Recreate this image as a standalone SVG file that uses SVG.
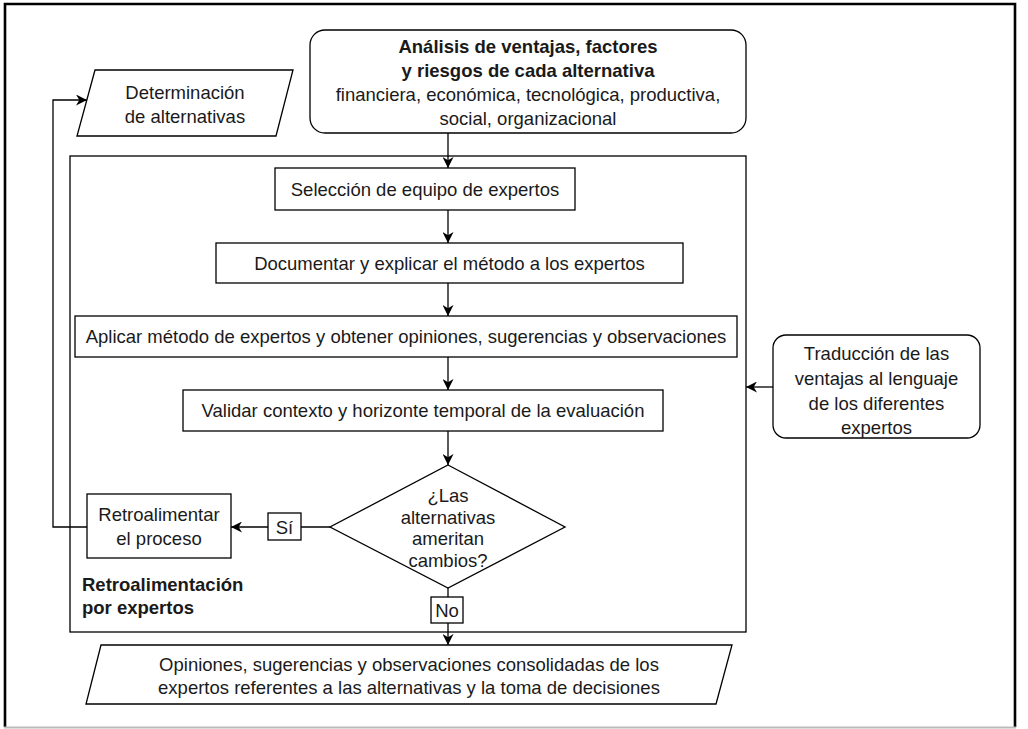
<svg xmlns="http://www.w3.org/2000/svg" width="1028" height="729" viewBox="0 0 1028 729">
<defs>
<style>
.n{fill:#fff;stroke:#000;stroke-width:1.3}
.t{font-family:"Liberation Sans",Arial,sans-serif;font-size:18.5px;fill:#1a1a1a;text-anchor:middle}
.b{font-weight:bold}
.c{fill:none;stroke:#000;stroke-width:1.3}
.l{fill:#fff;stroke:#000;stroke-width:1.3}
</style>
<marker id="ah" viewBox="0 0 10 10" refX="10" refY="5" markerWidth="12" markerHeight="11" markerUnits="userSpaceOnUse" orient="auto">
<path d="M0,0 L10,5 L0,10 L3,5 Z" fill="#000"/>
</marker>
</defs>
<rect width="1028" height="729" fill="#fff"/>
<g id="frame">
<path d="M5,727 L5,4 L1015,4 L1015,727" fill="none" stroke="#000" stroke-width="2.6"/>
<line x1="4" y1="727.5" x2="1016" y2="727.5" stroke="#bbb" stroke-width="2"/>
</g>
<g id="retro-frame">
<rect x="70" y="156" width="676" height="476" fill="none" stroke="#000" stroke-width="1.3"/>
<text class="t b" x="82" y="591" style="text-anchor:start">Retroalimentación</text>
<text class="t b" x="82" y="614" style="text-anchor:start">por expertos</text>
</g>
<g id="analisis">
<rect class="n" x="310" y="30" width="436" height="103" rx="15"/>
<text class="t b" x="528" y="53">Análisis de ventajas, factores</text>
<text class="t b" x="528" y="77">y riesgos de cada alternativa</text>
<text class="t" x="528" y="101">financiera, económica, tecnológica, productiva,</text>
<text class="t" x="528" y="125">social, organizacional</text>
</g>
<g id="determinacion">
<polygon class="n" points="95,70 293,70 276,136 77,136"/>
<text class="t" x="185" y="99">Determinación</text>
<text class="t" x="185" y="123">de alternativas</text>
</g>
<g id="seleccion">
<rect class="n" x="275" y="168" width="300" height="42"/>
<text class="t" x="425" y="195.5">Selección de equipo de expertos</text>
</g>
<g id="documentar">
<rect class="n" x="216" y="243" width="467" height="40"/>
<text class="t" x="449.5" y="269.5">Documentar y explicar el método a los expertos</text>
</g>
<g id="aplicar">
<rect class="n" x="75" y="316" width="662" height="41"/>
<text class="t" x="406" y="343">Aplicar método de expertos y obtener opiniones, sugerencias y observaciones</text>
</g>
<g id="validar">
<rect class="n" x="183" y="390" width="480" height="41"/>
<text class="t" x="423" y="417">Validar contexto y horizonte temporal de la evaluación</text>
</g>
<g id="decision">
<polygon class="n" points="448,465 565,527 448,588 330,527"/>
<text class="t" x="448" y="502">¿Las</text>
<text class="t" x="448" y="523.5">alternativas</text>
<text class="t" x="448" y="545">ameritan</text>
<text class="t" x="448" y="566.5">cambios?</text>
</g>
<g id="retroalimentar">
<rect class="n" x="87" y="494" width="144" height="64"/>
<text class="t" x="159" y="521">Retroalimentar</text>
<text class="t" x="159" y="545">el proceso</text>
</g>
<g id="traduccion">
<rect class="n" x="773" y="335" width="207" height="103" rx="13"/>
<text class="t" x="876.5" y="360">Traducción de las</text>
<text class="t" x="876.5" y="385">ventajas al lenguaje</text>
<text class="t" x="876.5" y="410">de los diferentes</text>
<text class="t" x="876.5" y="434">expertos</text>
</g>
<g id="opiniones">
<polygon class="n" points="101,645 732,645 716,704 86,704"/>
<text class="t" x="409" y="671">Opiniones, sugerencias y observaciones consolidadas de los</text>
<text class="t" x="409" y="694">expertos referentes a las alternativas y la toma de decisiones</text>
</g>
<g id="connectors">
<path class="c" d="M448,133 L448,168" marker-end="url(#ah)"/>
<path class="c" d="M448,210 L448,243" marker-end="url(#ah)"/>
<path class="c" d="M448,283 L448,316" marker-end="url(#ah)"/>
<path class="c" d="M448,357 L448,390" marker-end="url(#ah)"/>
<path class="c" d="M448,431 L448,465" marker-end="url(#ah)"/>
<path class="c" d="M448,588 L448,645" marker-end="url(#ah)"/>
<path class="c" d="M330,527 L231,527" marker-end="url(#ah)"/>
<path class="c" d="M87,527 L53,527 L53,100 L87,100" marker-end="url(#ah)"/>
<path class="c" d="M773,387 L746,387" marker-end="url(#ah)"/>
<g id="label-si">
<rect class="l" x="268" y="513" width="33" height="27"/>
<text class="t" x="284.5" y="533.5">Sí</text>
</g>
<g id="label-no">
<rect class="l" x="431" y="597" width="32" height="26"/>
<text class="t" x="447" y="617">No</text>
</g>
</g>
</svg>
